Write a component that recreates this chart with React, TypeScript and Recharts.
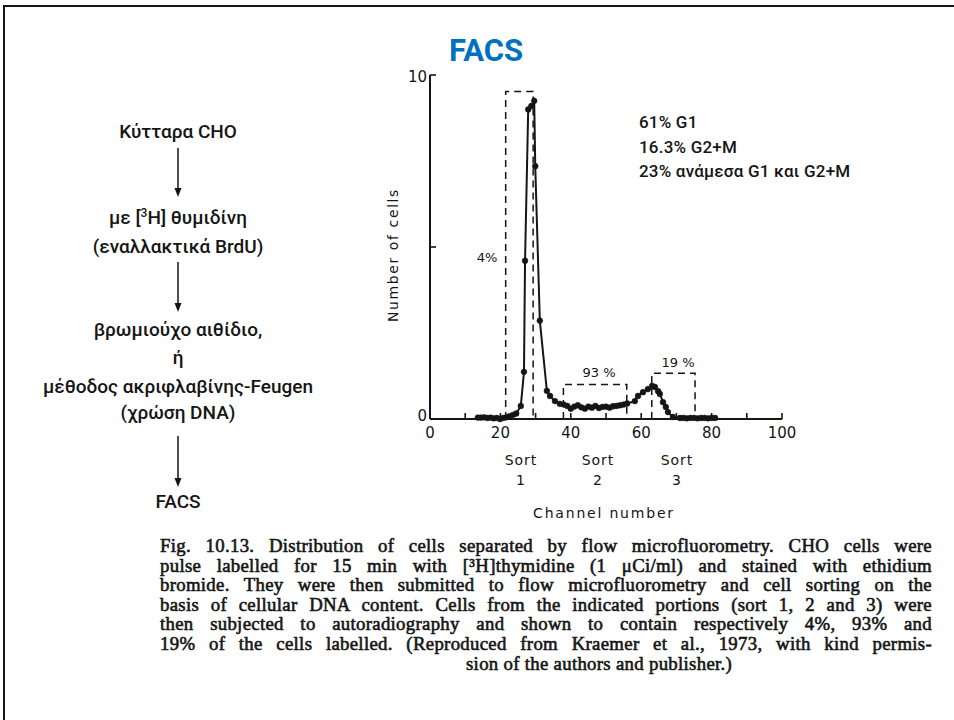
import { ComposedChart, Line, XAxis, YAxis } from "recharts"

// histogram: channel number vs number of cells
const channels = [
  13.6, 14.5, 15.4, 16.3, 17.2, 18.1, 19.0, 19.9, 20.8, 21.7, 22.6, 23.6, 24.5,
  25.8, 26.7, 27.0, 27.9, 28.8, 29.6, 29.9, 31.2, 33.2, 34.1, 35.5, 36.9,
  38.0, 39.0, 40.0, 41.0, 42.0, 43.0, 44.0, 45.0, 46.0, 47.0, 48.0, 49.0, 50.0,
  51.0, 52.0, 53.0, 54.0, 55.0, 56.0, 58.2, 59.1, 60.5, 61.9, 63.1, 63.9, 64.8,
  65.3, 66.2, 67.0, 67.6, 69.0, 71.0, 72.0, 73.0, 74.0, 75.0, 76.0, 77.0, 78.0,
  79.0, 80.0, 81.0,
]
const counts = [
  0.04, 0.04, 0.05, 0.03, 0.04, 0.02, 0.03, 0.0, 0.03, 0.05, 0.08, 0.12, 0.16,
  0.38, 1.37, 4.6, 9.0, 9.1, 9.25, 7.35, 2.86, 0.82, 0.67, 0.52, 0.44,
  0.42, 0.38, 0.3, 0.36, 0.4, 0.34, 0.3, 0.36, 0.33, 0.38, 0.32, 0.35, 0.36,
  0.33, 0.37, 0.38, 0.4, 0.42, 0.45, 0.52, 0.67, 0.78, 0.87, 0.96, 0.93, 0.81,
  0.73, 0.49, 0.35, 0.2, 0.06, 0.03, 0.03, 0.02, 0.03, 0.03, 0.02, 0.03, 0.03,
  0.02, 0.03, 0.03,
]

// dashed sort windows
const sort1X = [21.5, 21.5, 29.3, 29.3]
const sort1Y = [0, 9.52, 9.52, 0]
const sort2X = [37.9, 37.9, 55.9, 55.9]
const sort2Y = [0, 1.0, 1.0, 0]
const sort3X = [63.0, 63.0, 75.3, 75.3]
const sort3Y = [0, 1.33, 1.33, 0]

const xTicks = [0, 10, 20, 30, 40, 50, 60, 70, 80, 90, 100]
const xTickLabels = ["0", "", "20", "", "40", "", "60", "", "80", "", "100"]
const yTicks = [0, 5, 10]
const yTickLabels = ["0", "", "10"]

const sortPercents = ["4%", "93 %", "19 %"]
const phaseNotes = ["61% G1", "16.3% G2+M", "23% ανάμεσα G1 και G2+M"]
const captionLines = [
  "Fig. 10.13. Distribution of cells separated by flow microfluorometry. CHO cells were",
  "pulse labelled for 15 min with [³H]thymidine (1 μCi/ml) and stained with ethidium",
  "bromide. They were then submitted to flow microfluorometry and cell sorting on the",
  "basis of cellular DNA content. Cells from the indicated portions (sort 1, 2 and 3) were",
  "then subjected to autoradiography and shown to contain respectively 4%, 93% and",
  "19% of the cells labelled. (Reproduced from Kraemer et al., 1973, with kind permis-",
]
const captionLast = "sion of the authors and publisher.)"

const zip = (xs: number[], ys: number[]) => xs.map((ch, i) => ({ ch, n: ys[i] }))
const cells = zip(channels, counts)
const sort1 = zip(sort1X, sort1Y)
const sort2 = zip(sort2X, sort2Y)
const sort3 = zip(sort3X, sort3Y)

const INK = "#151515"
const plotFont = "'DejaVu Sans', sans-serif"
const greekFont = "Roboto, 'Noto Sans', sans-serif"

const XTick = (props: any) => {
  const { x, y, payload } = props
  const label = xTickLabels[xTicks.indexOf(payload.value)]
  return (
    <g>
      <line x1={x} x2={x} y1={y} y2={y - 6} stroke={INK} strokeWidth={1.6} />
      {label && (
        <text x={x} y={y + 19} textAnchor="middle" fontFamily={plotFont} fontSize={15} fill={INK}>
          {label}
        </text>
      )}
    </g>
  )
}

const YTick = (props: any) => {
  const { x, y, payload } = props
  const label = yTickLabels[yTicks.indexOf(payload.value)]
  return (
    <g>
      <line x1={x} x2={x + 6} y1={y} y2={y} stroke={INK} strokeWidth={1.6} />
      {label && (
        <text x={x - 3} y={y + (payload.value === 10 ? 7 : 2)} textAnchor="end"
          fontFamily={plotFont} fontSize={15} fill={INK}>
          {label}
        </text>
      )}
    </g>
  )
}

const Arrow = ({ y1, y2 }: { y1: number; y2: number }) => (
  <g>
    <line x1={178} x2={178} y1={y1} y2={y2 - 7} stroke={INK} strokeWidth={1.5} />
    <path d={`M174.5 ${y2 - 9} L181.5 ${y2 - 9} L178 ${y2} Z`} fill={INK} />
  </g>
)

export default function App() {
  const dash = { stroke: INK, strokeWidth: 1.5, strokeDasharray: "7 5", dot: false as const, isAnimationActive: false }
  return (
    <div style={{ position: "absolute", left: 0, top: 0, width: 954, height: 720, background: "#fff", overflow: "hidden" }}>
      <div style={{ position: "absolute", left: 3, top: 5, width: 960, height: 730, borderTop: `2px solid ${INK}`, borderLeft: `2px solid ${INK}` }} />

      <div style={{ position: "absolute", left: 0, top: 0 }}>
        <ComposedChart width={954} height={720} margin={{ top: 75, right: 172, bottom: 271, left: 370 }}>
          <XAxis
            type="number" dataKey="ch" domain={[0, 100]} ticks={xTicks} interval={0}
            tickSize={0} tickMargin={0} tickLine={false} tick={<XTick />}
            axisLine={{ stroke: INK, strokeWidth: 2 }} height={30}
          />
          <YAxis
            type="number" domain={[0, 10]} ticks={yTicks} interval={0}
            tickSize={0} tickMargin={0} tickLine={false} tick={<YTick />}
            axisLine={{ stroke: INK, strokeWidth: 2 }} width={60}
          />
          <Line data={sort1} dataKey="n" type="linear" {...dash} />
          <Line data={sort2} dataKey="n" type="linear" {...dash} />
          <Line data={sort3} dataKey="n" type="linear" {...dash} />
          <Line
            data={cells} dataKey="n" type="linear" stroke={INK} strokeWidth={2}
            dot={{ r: 2.9, fill: INK, stroke: INK, strokeWidth: 0.5 }}
            isAnimationActive={false}
          />
        </ComposedChart>
      </div>

      <svg width={954} height={720} style={{ position: "absolute", left: 0, top: 0, pointerEvents: "none" }}>
        <text x={486} y={61} textAnchor="middle" fontFamily={greekFont} fontWeight={700} fontSize={31} fill="#0070C0">FACS</text>

        <g fontFamily={greekFont} fontWeight={500} fontSize={19} fill={INK} textAnchor="middle">
          <text x={178} y={138}>Κύτταρα CHO</text>
          <text x={178} y={224}>με [<tspan fontSize={12} dy={-7}>3</tspan><tspan dy={7}>H] θυμιδίνη</tspan></text>
          <text x={178} y={253}>(εναλλακτικά BrdU)</text>
          <text x={178} y={336}>βρωμιούχο αιθίδιο,</text>
          <text x={178} y={364}>ή</text>
          <text x={178} y={393}>μέθοδος ακριφλαβίνης-Feugen</text>
          <text x={178} y={419}>(χρώση DNA)</text>
          <text x={178} y={508}>FACS</text>
        </g>
        <Arrow y1={148} y2={197} />
        <Arrow y1={262} y2={312} />
        <Arrow y1={436} y2={487} />

        <g fontFamily={greekFont} fontWeight={500} fontSize={17} fill={INK} letterSpacing={0.2}>
          {phaseNotes.map((t, i) => (
            <text key={t} x={639} y={128 + i * 24.5}>{t}</text>
          ))}
        </g>

        <g fontFamily={plotFont} fill={INK}>
          <text x={393} y={255} transform="rotate(-90 393 255)" textAnchor="middle" dominantBaseline="central"
            fontSize={14} letterSpacing={1.6}>Number of cells</text>
          <text x={604} y={518} textAnchor="middle" fontSize={14} letterSpacing={1.8}>Channel number</text>
          {[521, 598, 677].map((cx, i) => (
            <g key={cx} textAnchor="middle" fontSize={14} letterSpacing={1}>
              <text x={cx} y={465}>Sort</text>
              <text x={cx} y={485}>{i + 1}</text>
            </g>
          ))}
          <text x={487} y={262} textAnchor="middle" fontSize={13}>{sortPercents[0]}</text>
          <text x={599} y={377} textAnchor="middle" fontSize={13}>{sortPercents[1]}</text>
          <text x={678} y={367} textAnchor="middle" fontSize={13}>{sortPercents[2]}</text>
        </g>
      </svg>

      <div style={{ position: "absolute", left: 160, top: 536, width: 772, fontFamily: "'Liberation Serif', serif", fontWeight: 400, fontSize: 18.8, letterSpacing: 0.3, lineHeight: "19.6px", color: INK, WebkitTextStroke: "0.6px #151515" }}>
        {captionLines.map((t) => (
          <div key={t} style={{ textAlign: "justify", textAlignLast: "justify", whiteSpace: "nowrap" }}>{t}</div>
        ))}
        <div style={{ paddingLeft: 306 }}>{captionLast}</div>
      </div>
    </div>
  )
}
